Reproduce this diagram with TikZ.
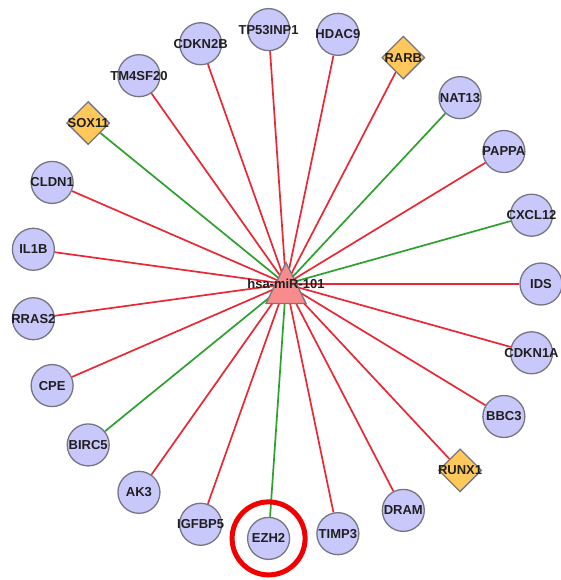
\documentclass[tikz,border=0pt]{standalone}
\usepackage{fontspec}
\setmainfont{Liberation Sans}
\usetikzlibrary{shapes.geometric, backgrounds}
\definecolor{netgray}{RGB}{118, 118, 130}
\definecolor{genefill}{RGB}{200, 200, 250}
\definecolor{tffill}{RGB}{255, 200, 90}
\definecolor{mirfill}{RGB}{248, 140, 140}
\definecolor{edgered}{RGB}{232, 40, 52}
\definecolor{edgegreen}{RGB}{45, 160, 45}
\definecolor{ringred}{RGB}{240, 0, 0}

\begin{document}
\begin{tikzpicture}[
    x = 1pt, y = -1pt,
    lbl/.style = {font=\fontsize{13}{15}\selectfont\bfseries, text=black!88, inner sep=0pt},
    gene/.style = {circle, draw=netgray, fill=genefill, line width=1.3pt,
                   minimum size=42pt, inner sep=0pt, label={[lbl]center:#1}},
    tf/.style = {diamond, draw=netgray, fill=tffill, line width=1.3pt,
                 minimum size=43pt, inner sep=0pt, label={[lbl]center:#1}},
    hub/.style = {isosceles triangle, isosceles triangle stretches, shape border rotate=90,
                  draw=netgray, fill=mirfill, line width=1.3pt,
                  minimum width=40pt, minimum height=41pt, inner sep=0pt,
                  label={[lbl, yshift=7pt]center:#1}},
    down/.style = {edgered, line width=1.7pt},
    up/.style = {edgegreen, line width=1.7pt},
    ring/.style = {ringred, line width=5pt}
]
  \useasboundingbox (0,0) rectangle (561,580);
  \begin{scope}[shift={(286,284)}]
    \node[hub=hsa-miR-101] (mir) at (0,7) {};

    % targets, clockwise from the right
    \node[gene=IDS]      (ids)      at (0*360/23:255) {};
    \node[gene=CDKN1A]   (cdkn1a)   at (1*360/23:255) {};
    \node[gene=BBC3]     (bbc3)     at (2*360/23:255) {};
    \node[tf=RUNX1]      (runx1)    at (3*360/23:255) {};
    \node[gene=DRAM]     (dram)     at (4*360/23:255) {};
    \node[gene=TIMP3]    (timp3)    at (5*360/23:255) {};
    \node[gene=EZH2]     (ezh2)     at (6*360/23:255) {};
    \node[gene=IGFBP5]   (igfbp5)   at (7*360/23:255) {};
    \node[gene=AK3]      (ak3)      at (8*360/23:255) {};
    \node[gene=BIRC5]    (birc5)    at (9*360/23:255) {};
    \node[gene=CPE]      (cpe)      at (10*360/23:255) {};
    \node[gene=RRAS2]    (rras2)    at (11*360/23:255) {};
    \node[gene=IL1B]     (il1b)     at (12*360/23:255) {};
    \node[gene=CLDN1]    (cldn1)    at (13*360/23:255) {};
    \node[tf=SOX11]      (sox11)    at (14*360/23:255) {};
    \node[gene=TM4SF20]  (tm4sf20)  at (15*360/23:255) {};
    \node[gene=CDKN2B]   (cdkn2b)   at (16*360/23:255) {};
    \node[gene=TP53INP1] (tp53inp1) at (17*360/23:255) {};
    \node[gene=HDAC9]    (hdac9)    at (18*360/23:255) {};
    \node[tf=RARB]       (rarb)     at (19*360/23:255) {};
    \node[gene=NAT13]    (nat13)    at (20*360/23:255) {};
    \node[gene=PAPPA]    (pappa)    at (21*360/23:255) {};
    \node[gene=CXCL12]   (cxcl12)   at (22*360/23:255) {};

    % edges meet behind the triangle, a little above its centre
    \begin{scope}[on background layer]
      \draw[down] ([yshift=7pt]mir.center) -- (ids);
      \draw[down] ([yshift=7pt]mir.center) -- (cdkn1a);
      \draw[down] ([yshift=7pt]mir.center) -- (bbc3);
      \draw[down] ([yshift=7pt]mir.center) -- (runx1);
      \draw[down] ([yshift=7pt]mir.center) -- (dram);
      \draw[down] ([yshift=7pt]mir.center) -- (timp3);
      \draw[up]   ([yshift=7pt]mir.center) -- (ezh2);
      \draw[down] ([yshift=7pt]mir.center) -- (igfbp5);
      \draw[down] ([yshift=7pt]mir.center) -- (ak3);
      \draw[up]   ([yshift=7pt]mir.center) -- (birc5);
      \draw[down] ([yshift=7pt]mir.center) -- (cpe);
      \draw[down] ([yshift=7pt]mir.center) -- (rras2);
      \draw[down] ([yshift=7pt]mir.center) -- (il1b);
      \draw[down] ([yshift=7pt]mir.center) -- (cldn1);
      \draw[up]   ([yshift=7pt]mir.center) -- (sox11);
      \draw[down] ([yshift=7pt]mir.center) -- (tm4sf20);
      \draw[down] ([yshift=7pt]mir.center) -- (cdkn2b);
      \draw[down] ([yshift=7pt]mir.center) -- (tp53inp1);
      \draw[down] ([yshift=7pt]mir.center) -- (hdac9);
      \draw[down] ([yshift=7pt]mir.center) -- (rarb);
      \draw[up]   ([yshift=7pt]mir.center) -- (nat13);
      \draw[down] ([yshift=7pt]mir.center) -- (pappa);
      \draw[up]   ([yshift=7pt]mir.center) -- (cxcl12);
    \end{scope}

    \draw[ring] (ezh2) circle (36.5);
  \end{scope}
\end{tikzpicture}
\end{document}
